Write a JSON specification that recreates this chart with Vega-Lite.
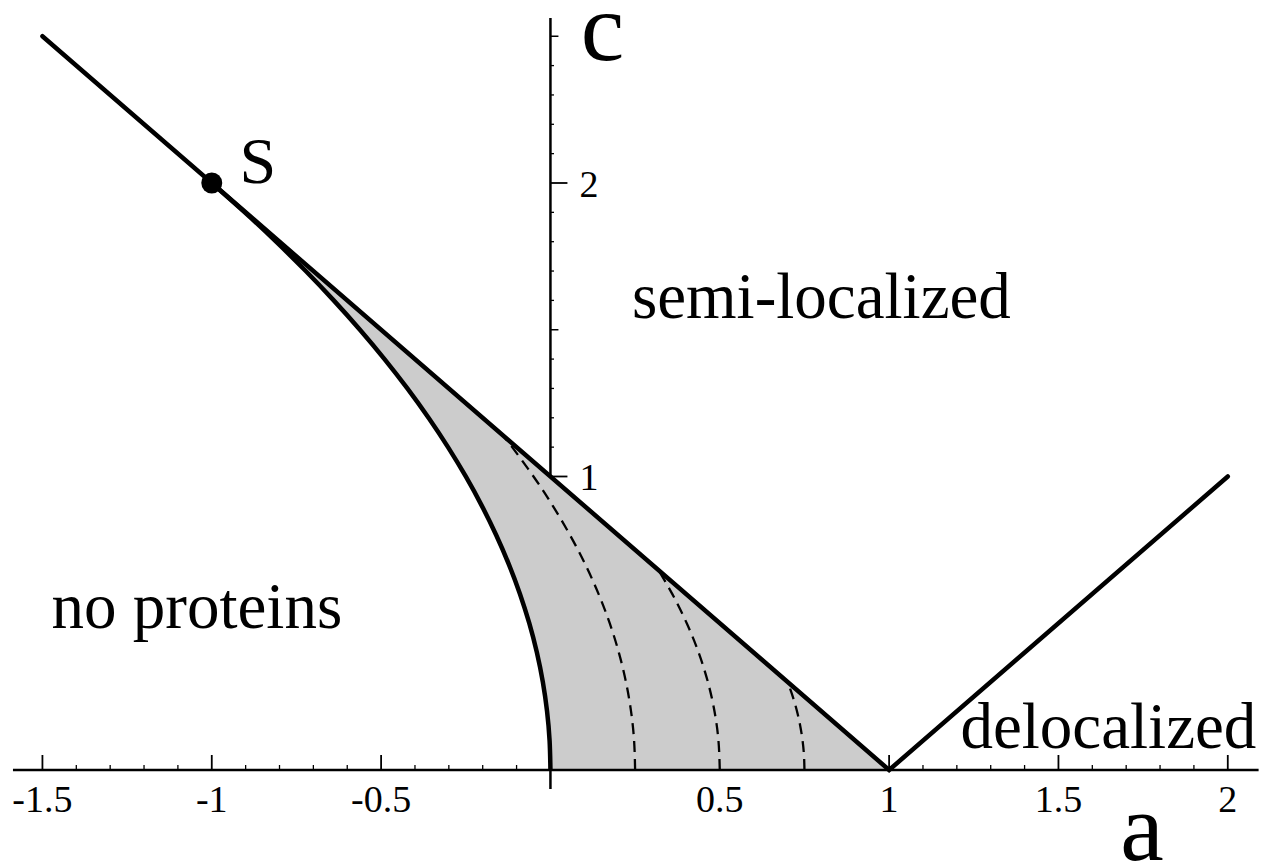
{
  "$schema": "https://vega.github.io/schema/vega-lite/v6.json",
  "width": 1265,
  "height": 863,
  "autosize": "none",
  "padding": 0,
  "background": "white",
  "config": {
    "view": {"stroke": null},
    "text": {"font": "Liberation Serif", "color": "black"}
  },
  "datasets": {
    "xTicks": [
      {"a": -1.5, "level": "major", "label": "-1.5"},
      {"a": -1.0, "level": "major", "label": "-1"},
      {"a": -0.5, "level": "major", "label": "-0.5"},
      {"a": 0.5, "level": "major", "label": "0.5"},
      {"a": 1.0, "level": "major", "label": "1"},
      {"a": 1.5, "level": "major", "label": "1.5"},
      {"a": 2.0, "level": "major", "label": "2"},
      {"a": -1.4, "level": "minor"}, {"a": -1.3, "level": "minor"}, {"a": -1.2, "level": "minor"}, {"a": -1.1, "level": "minor"},
      {"a": -0.9, "level": "minor"}, {"a": -0.8, "level": "minor"}, {"a": -0.7, "level": "minor"}, {"a": -0.6, "level": "minor"},
      {"a": -0.4, "level": "minor"}, {"a": -0.3, "level": "minor"}, {"a": -0.2, "level": "minor"}, {"a": -0.1, "level": "minor"},
      {"a": 0.1, "level": "minor"}, {"a": 0.2, "level": "minor"}, {"a": 0.3, "level": "minor"}, {"a": 0.4, "level": "minor"},
      {"a": 0.6, "level": "minor"}, {"a": 0.7, "level": "minor"}, {"a": 0.8, "level": "minor"}, {"a": 0.9, "level": "minor"},
      {"a": 1.1, "level": "minor"}, {"a": 1.2, "level": "minor"}, {"a": 1.3, "level": "minor"}, {"a": 1.4, "level": "minor"},
      {"a": 1.6, "level": "minor"}, {"a": 1.7, "level": "minor"}, {"a": 1.8, "level": "minor"}, {"a": 1.9, "level": "minor"}
    ],
    "yTicks": [
      {"c": 1.0, "level": "major", "label": "1"},
      {"c": 2.0, "level": "major", "label": "2"},
      {"c": 0.5, "level": "medium"}, {"c": 1.5, "level": "medium"}, {"c": 2.5, "level": "medium"},
      {"c": 0.1, "level": "minor"}, {"c": 0.2, "level": "minor"}, {"c": 0.3, "level": "minor"}, {"c": 0.4, "level": "minor"},
      {"c": 0.6, "level": "minor"}, {"c": 0.7, "level": "minor"}, {"c": 0.8, "level": "minor"}, {"c": 0.9, "level": "minor"},
      {"c": 1.1, "level": "minor"}, {"c": 1.2, "level": "minor"}, {"c": 1.3, "level": "minor"}, {"c": 1.4, "level": "minor"},
      {"c": 1.6, "level": "minor"}, {"c": 1.7, "level": "minor"}, {"c": 1.8, "level": "minor"}, {"c": 1.9, "level": "minor"},
      {"c": 2.1, "level": "minor"}, {"c": 2.2, "level": "minor"}, {"c": 2.3, "level": "minor"}, {"c": 2.4, "level": "minor"}
    ],
    "region": [
      {"a": -1.0, "lower": 2.0, "upper": 2.0},
      {"a": -0.95, "lower": 1.9494, "upper": 1.95},
      {"a": -0.9, "lower": 1.8974, "upper": 1.9},
      {"a": -0.85, "lower": 1.8439, "upper": 1.85},
      {"a": -0.8, "lower": 1.7889, "upper": 1.8},
      {"a": -0.75, "lower": 1.7321, "upper": 1.75},
      {"a": -0.7, "lower": 1.6733, "upper": 1.7},
      {"a": -0.65, "lower": 1.6125, "upper": 1.65},
      {"a": -0.6, "lower": 1.5492, "upper": 1.6},
      {"a": -0.55, "lower": 1.4832, "upper": 1.55},
      {"a": -0.5, "lower": 1.4142, "upper": 1.5},
      {"a": -0.45, "lower": 1.3416, "upper": 1.45},
      {"a": -0.4, "lower": 1.2649, "upper": 1.4},
      {"a": -0.35, "lower": 1.1832, "upper": 1.35},
      {"a": -0.3, "lower": 1.0954, "upper": 1.3},
      {"a": -0.25, "lower": 1.0, "upper": 1.25},
      {"a": -0.2, "lower": 0.8944, "upper": 1.2},
      {"a": -0.15, "lower": 0.7746, "upper": 1.15},
      {"a": -0.1, "lower": 0.6325, "upper": 1.1},
      {"a": -0.07, "lower": 0.5292, "upper": 1.07},
      {"a": -0.05, "lower": 0.4472, "upper": 1.05},
      {"a": -0.03, "lower": 0.3464, "upper": 1.03},
      {"a": -0.02, "lower": 0.2828, "upper": 1.02},
      {"a": -0.01, "lower": 0.2, "upper": 1.01},
      {"a": -0.005, "lower": 0.1414, "upper": 1.005},
      {"a": -0.002, "lower": 0.0894, "upper": 1.002},
      {"a": -0.0005, "lower": 0.0447, "upper": 1.0005},
      {"a": 0.0, "lower": 0.0, "upper": 1.0},
      {"a": 1.0, "lower": 0.0, "upper": 0.0}
    ],
    "boundary": [
      {"c": 0.0, "a": 0.0},
      {"c": 0.1, "a": -0.0025},
      {"c": 0.2, "a": -0.01},
      {"c": 0.3, "a": -0.0225},
      {"c": 0.4, "a": -0.04},
      {"c": 0.5, "a": -0.0625},
      {"c": 0.6, "a": -0.09},
      {"c": 0.7, "a": -0.1225},
      {"c": 0.8, "a": -0.16},
      {"c": 0.9, "a": -0.2025},
      {"c": 1.0, "a": -0.25},
      {"c": 1.1, "a": -0.3025},
      {"c": 1.2, "a": -0.36},
      {"c": 1.3, "a": -0.4225},
      {"c": 1.4, "a": -0.49},
      {"c": 1.5, "a": -0.5625},
      {"c": 1.6, "a": -0.64},
      {"c": 1.7, "a": -0.7225},
      {"c": 1.8, "a": -0.81},
      {"c": 1.9, "a": -0.9025},
      {"c": 2.0, "a": -1.0}
    ],
    "dashed": [
      {"g": "d1", "c": 0.0, "a": 0.25},
      {"g": "d1", "c": 0.1, "a": 0.247},
      {"g": "d1", "c": 0.2, "a": 0.238},
      {"g": "d1", "c": 0.3, "a": 0.223},
      {"g": "d1", "c": 0.4, "a": 0.202},
      {"g": "d1", "c": 0.5, "a": 0.175},
      {"g": "d1", "c": 0.6, "a": 0.142},
      {"g": "d1", "c": 0.7, "a": 0.103},
      {"g": "d1", "c": 0.8, "a": 0.058},
      {"g": "d1", "c": 0.9, "a": 0.007},
      {"g": "d1", "c": 1.0, "a": -0.05},
      {"g": "d1", "c": 1.1, "a": -0.113},
      {"g": "d1", "c": 1.14, "a": -0.14},
      {"g": "d2", "c": 0.0, "a": 0.5},
      {"g": "d2", "c": 0.1, "a": 0.4961},
      {"g": "d2", "c": 0.2, "a": 0.4844},
      {"g": "d2", "c": 0.3, "a": 0.4649},
      {"g": "d2", "c": 0.4, "a": 0.4376},
      {"g": "d2", "c": 0.5, "a": 0.4025},
      {"g": "d2", "c": 0.6, "a": 0.3596},
      {"g": "d2", "c": 0.681, "a": 0.319},
      {"g": "d3", "c": 0.0, "a": 0.75},
      {"g": "d3", "c": 0.05, "a": 0.7486},
      {"g": "d3", "c": 0.1, "a": 0.7445},
      {"g": "d3", "c": 0.15, "a": 0.7376},
      {"g": "d3", "c": 0.2, "a": 0.728},
      {"g": "d3", "c": 0.25, "a": 0.7156},
      {"g": "d3", "c": 0.299, "a": 0.7008}
    ],
    "vee": [
      {"a": -1.5, "c": 2.5},
      {"a": 1.0, "c": 0.0},
      {"a": 2.0, "c": 1.0}
    ],
    "points": [
      {"a": -1.0, "c": 2.0, "name": "S"}
    ],
    "regions": [
      {"text": "semi-localized", "a": 0.8, "c": 1.54},
      {"text": "no proteins", "a": -1.044, "c": 0.484},
      {"text": "delocalized", "a": 1.6475, "c": 0.075}
    ],
    "axisNames": [
      {"text": "c", "a": 0.1535, "c": 2.419},
      {"text": "a", "a": 1.7464, "c": -0.3066}
    ]
  },
  "layer": [
    {
      "data": {"name": "xTicks"},
      "transform": [{"filter": "datum.level === 'major'"}],
      "mark": {"type": "rule", "color": "black", "strokeWidth": 1.8},
      "encoding": {
        "x": {"field": "a", "type": "quantitative", "scale": {"domain": [-1.6253, 2.1099], "nice": false, "zero": false}, "axis": null},
        "y": {"datum": 0, "type": "quantitative", "scale": {"domain": [-0.3169, 2.6235], "nice": false, "zero": false}, "axis": null},
        "y2": {"datum": 0.0511}
      }
    },
    {
      "data": {"name": "xTicks"},
      "transform": [{"filter": "datum.level === 'minor'"}],
      "mark": {"type": "rule", "color": "black", "strokeWidth": 1.3},
      "encoding": {
        "x": {"field": "a", "type": "quantitative", "scale": {"domain": [-1.6253, 2.1099], "nice": false, "zero": false}, "axis": null},
        "y": {"datum": 0, "type": "quantitative", "scale": {"domain": [-0.3169, 2.6235], "nice": false, "zero": false}, "axis": null},
        "y2": {"datum": 0.017}
      }
    },
    {
      "data": {"name": "yTicks"},
      "transform": [{"filter": "datum.level === 'major'"}],
      "mark": {"type": "rule", "color": "black", "strokeWidth": 1.8},
      "encoding": {
        "y": {"field": "c", "type": "quantitative", "scale": {"domain": [-0.3169, 2.6235], "nice": false, "zero": false}, "axis": null},
        "x": {"datum": 0, "type": "quantitative", "scale": {"domain": [-1.6253, 2.1099], "nice": false, "zero": false}, "axis": null},
        "x2": {"datum": 0.0502}
      }
    },
    {
      "data": {"name": "yTicks"},
      "transform": [{"filter": "datum.level === 'medium'"}],
      "mark": {"type": "rule", "color": "black", "strokeWidth": 1.5},
      "encoding": {
        "y": {"field": "c", "type": "quantitative", "scale": {"domain": [-0.3169, 2.6235], "nice": false, "zero": false}, "axis": null},
        "x": {"datum": 0, "type": "quantitative", "scale": {"domain": [-1.6253, 2.1099], "nice": false, "zero": false}, "axis": null},
        "x2": {"datum": 0.0236}
      }
    },
    {
      "data": {"name": "yTicks"},
      "transform": [{"filter": "datum.level === 'minor'"}],
      "mark": {"type": "rule", "color": "black", "strokeWidth": 1.3},
      "encoding": {
        "y": {"field": "c", "type": "quantitative", "scale": {"domain": [-0.3169, 2.6235], "nice": false, "zero": false}, "axis": null},
        "x": {"datum": 0, "type": "quantitative", "scale": {"domain": [-1.6253, 2.1099], "nice": false, "zero": false}, "axis": null},
        "x2": {"datum": 0.0105}
      }
    },
    {
      "data": {"values": [{}]},
      "mark": {"type": "rule", "color": "black", "strokeWidth": 2.5},
      "encoding": {
        "x": {"datum": 0, "type": "quantitative", "scale": {"domain": [-1.6253, 2.1099], "nice": false, "zero": false}, "axis": null},
        "y": {"datum": -0.065, "type": "quantitative", "scale": {"domain": [-0.3169, 2.6235], "nice": false, "zero": false}, "axis": null},
        "y2": {"datum": 2.562}
      }
    },
    {
      "data": {"name": "region"},
      "mark": {"type": "area", "color": "#cccccc", "opacity": 1},
      "encoding": {
        "x": {"field": "a", "type": "quantitative", "scale": {"domain": [-1.6253, 2.1099], "nice": false, "zero": false}, "axis": null},
        "y": {"field": "lower", "type": "quantitative", "scale": {"domain": [-0.3169, 2.6235], "nice": false, "zero": false}, "axis": null},
        "y2": {"field": "upper"}
      }
    },
    {
      "data": {"values": [{}]},
      "mark": {"type": "rule", "color": "black", "strokeWidth": 2.4},
      "encoding": {
        "y": {"datum": 0, "type": "quantitative", "scale": {"domain": [-0.3169, 2.6235], "nice": false, "zero": false}, "axis": null},
        "x": {"datum": -1.587, "type": "quantitative", "scale": {"domain": [-1.6253, 2.1099], "nice": false, "zero": false}, "axis": null},
        "x2": {"datum": 2.091}
      }
    },
    {
      "data": {"name": "dashed"},
      "mark": {"type": "line", "color": "black", "strokeWidth": 2.3, "strokeDash": [11, 7], "interpolate": "natural"},
      "encoding": {
        "x": {"field": "a", "type": "quantitative", "scale": {"domain": [-1.6253, 2.1099], "nice": false, "zero": false}, "axis": null},
        "y": {"field": "c", "type": "quantitative", "scale": {"domain": [-0.3169, 2.6235], "nice": false, "zero": false}, "axis": null},
        "detail": {"field": "g", "type": "nominal"},
        "order": {"field": "c", "type": "quantitative"}
      }
    },
    {
      "data": {"name": "boundary"},
      "mark": {"type": "line", "color": "black", "strokeWidth": 4.5, "interpolate": "natural"},
      "encoding": {
        "x": {"field": "a", "type": "quantitative", "scale": {"domain": [-1.6253, 2.1099], "nice": false, "zero": false}, "axis": null},
        "y": {"field": "c", "type": "quantitative", "scale": {"domain": [-0.3169, 2.6235], "nice": false, "zero": false}, "axis": null},
        "order": {"field": "c", "type": "quantitative"}
      }
    },
    {
      "data": {"name": "vee"},
      "mark": {"type": "line", "color": "black", "strokeWidth": 4.5, "strokeCap": "round", "strokeJoin": "miter"},
      "encoding": {
        "x": {"field": "a", "type": "quantitative", "scale": {"domain": [-1.6253, 2.1099], "nice": false, "zero": false}, "axis": null},
        "y": {"field": "c", "type": "quantitative", "scale": {"domain": [-0.3169, 2.6235], "nice": false, "zero": false}, "axis": null}
      }
    },
    {
      "data": {"name": "points"},
      "mark": {"type": "point", "filled": true, "color": "black", "opacity": 1, "size": 440},
      "encoding": {
        "x": {"field": "a", "type": "quantitative", "scale": {"domain": [-1.6253, 2.1099], "nice": false, "zero": false}, "axis": null},
        "y": {"field": "c", "type": "quantitative", "scale": {"domain": [-0.3169, 2.6235], "nice": false, "zero": false}, "axis": null}
      }
    },
    {
      "data": {"name": "points"},
      "mark": {"type": "text", "fontSize": 66, "align": "center", "baseline": "alphabetic", "dx": 46},
      "encoding": {
        "x": {"field": "a", "type": "quantitative", "scale": {"domain": [-1.6253, 2.1099], "nice": false, "zero": false}, "axis": null},
        "y": {"field": "c", "type": "quantitative", "scale": {"domain": [-0.3169, 2.6235], "nice": false, "zero": false}, "axis": null},
        "text": {"field": "name"}
      }
    },
    {
      "data": {"name": "regions"},
      "mark": {"type": "text", "fontSize": 65, "align": "center", "baseline": "alphabetic"},
      "encoding": {
        "x": {"field": "a", "type": "quantitative", "scale": {"domain": [-1.6253, 2.1099], "nice": false, "zero": false}, "axis": null},
        "y": {"field": "c", "type": "quantitative", "scale": {"domain": [-0.3169, 2.6235], "nice": false, "zero": false}, "axis": null},
        "text": {"field": "text"}
      }
    },
    {
      "data": {"name": "axisNames"},
      "mark": {"type": "text", "fontSize": 98, "align": "center", "baseline": "alphabetic"},
      "encoding": {
        "x": {"field": "a", "type": "quantitative", "scale": {"domain": [-1.6253, 2.1099], "nice": false, "zero": false}, "axis": null},
        "y": {"field": "c", "type": "quantitative", "scale": {"domain": [-0.3169, 2.6235], "nice": false, "zero": false}, "axis": null},
        "text": {"field": "text"}
      }
    },
    {
      "data": {"name": "xTicks"},
      "transform": [{"filter": "datum.level === 'major'"}],
      "mark": {"type": "text", "fontSize": 38, "align": "center", "baseline": "alphabetic", "dy": 42},
      "encoding": {
        "x": {"field": "a", "type": "quantitative", "scale": {"domain": [-1.6253, 2.1099], "nice": false, "zero": false}, "axis": null},
        "y": {"datum": 0, "type": "quantitative", "scale": {"domain": [-0.3169, 2.6235], "nice": false, "zero": false}, "axis": null},
        "text": {"field": "label"}
      }
    },
    {
      "data": {"name": "yTicks"},
      "transform": [{"filter": "datum.level === 'major'"}],
      "mark": {"type": "text", "fontSize": 38, "align": "left", "baseline": "alphabetic", "dx": 29, "dy": 14},
      "encoding": {
        "y": {"field": "c", "type": "quantitative", "scale": {"domain": [-0.3169, 2.6235], "nice": false, "zero": false}, "axis": null},
        "x": {"datum": 0, "type": "quantitative", "scale": {"domain": [-1.6253, 2.1099], "nice": false, "zero": false}, "axis": null},
        "text": {"field": "label"}
      }
    }
  ]
}
